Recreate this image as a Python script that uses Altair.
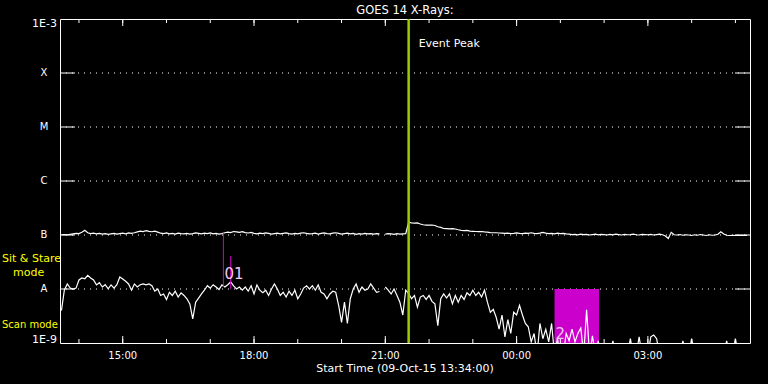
import altair as alt
import pandas as pd

# ---------------- data ----------------
TITLE = "GOES 14 X-Rays:"
X_TITLE = "Start Time (09-Oct-15 13:34:00)"
T_START = (2015, 10, 9, 13, 34)
T_END = (2015, 10, 10, 5, 20)

SAMPLE_START = "2015-10-09 13:36"
SAMPLE_STEP_MIN = 4

# flux in units of 1e-9 W/m^2 (None = data gap)
LONG_CHANNEL = [
    101, 102, 101, 103, 105, 107, 106, 112, 122, 110,
    106, 108, 105, 107, 104, 106, 103, 105, 107, 104,
    106, 108, 105, 109, 107, 110, 114, 118, 116, 120,
    117, 115, 118, 113, 108, 106, 109, 105, 107, 104,
    108, 106, 105, 107, 104, 106, 109, 107, 105, 108,
    106, 109, 105, 107, 104, 106, 110, 113, 111, 116,
    114, 112, 115, 111, 109, 112, 107, 105, 108, 106,
    109, 107, 104, 106, 108, 105, 107, 109, 106, 104,
    107, 105, 108, 110, 107, 105, 106, 108, 104, 107,
    109, 106, 105, 108, 110, 107, 104, 106, 108, 105,
    107, 103, 106, 104, 107, 105, 106, 104, 106, 105,
    None, 104, 106, 105, 103, 106, 104, 105, 106, 172,
    168, 166, 167, 160, 155, 153, 152, 153, 150, 142,
    138, 132, 131, 130, 131, 129, 125, 122, 121, 122,
    118, 117, 116, 115, 116, 114, 113, 111, 110, 110,
    109, 108, 107, 108, 106, 107, 109, 107, 106, 108,
    107, 110, 107, 106, 108, 112, 108, 106, 107, 105,
    108, 106, 107, 105, 104, 102, 103, 101, 104, 102,
    103, 100, 102, 104, 101, 103, 102, 100, 103, 101,
    104, 102, 100, 103, 101, 102, 104, 101, 100, 103,
    102, 101, 103, 100, 102, 104, 101, 96, 86, 112,
    101, 100, 102, 99, 101, 100, 98, 101, 99, 102,
    100, 98, 101, 99, 100, 103, 115, 104, 99, 98,
    99, 98, 98, 99, 98, 98,
]

SHORT_CHANNEL = [
    4.0, 9.6, 12.4, 10.4, 10.0, 10.4, 14.7, 16.0, 15.5, 17.9,
    16.0, 14.7, 11.9, 13.1, 10.9, 12.0, 10.1, 11.9, 10.4, 12.0,
    16.7, 15.3, 13.9, 12.4, 9.5, 12.4, 10.9, 12.0, 12.4, 11.9,
    12.4, 11.5, 9.1, 10.0, 7.6, 8.1, 6.4, 8.7, 7.6, 9.1,
    7.1, 8.5, 7.6, 6.6, 5.3, 2.8, 5.7, 6.8, 8.1, 9.5,
    11.5, 10.4, 12.0, 10.9, 9.8, 11.9, 10.9, 12.0, 13.5, 11.4,
    10.0, 10.9, 9.5, 10.9, 9.1, 11.5, 8.1, 11.9, 9.5, 8.5,
    9.5, 7.6, 10.0, 12.4, 10.0, 7.6, 8.7, 7.1, 9.1, 7.6,
    9.5, 6.6, 8.1, 10.4, 11.5, 10.0, 11.5, 9.5, 11.9, 8.7,
    8.1, 6.6, 8.1, 9.1, 8.7, 5.0, 2.4, 5.7, 2.3, 6.6,
    10.0, 12.4, 8.7, 10.9, 9.5, 10.0, 12.4, 10.4, 8.7, 9.0,
    None, 10.9, 9.5, 8.1, 10.0, 7.6, 5.7, 3.3, 9.5, 8.2,
    6.6, 7.6, 4.6, 7.1, 7.6, 6.4, 7.6, 5.9, 5.3, 2.1,
    6.6, 8.1, 6.8, 8.1, 5.3, 7.6, 5.7, 7.6, 6.4, 8.5,
    7.6, 9.5, 7.6, 8.7, 7.1, 9.5, 5.7, 3.7, 4.2, 3.0,
    1.8, 3.3, 1.3, 2.7, 1.5, 3.7, 3.3, 5.0, 3.3, 2.3,
    2.0, 1.05, 1.5, 0.6, 2.3, 1.2, 1.8, 1.05, 2.3, 0.6,
    1.2, 0.6, 0.6, 1.5, 1.1, 1.8, 1.05, 1.5, 1.9, 0.6,
    4.1, 0.6, 1.35, 0.6, 1.1, 0.6, 0.6, 0.6, 0.6, 1.1,
    0.6, 0.6, 0.6, 0.6, 0.6, 1.2, 0.6, 0.6, 1.3, 0.6,
    0.6, 0.6, 1.3, 1.4, 1.2, 0.6, 0.6, 0.6, 0.6, 0.6,
    0.6, 0.6, 0.6, 1.1, 0.6, 0.6, 1.2, 0.6, 0.6, 0.6,
    0.6, 0.6, 0.6, 0.6, 0.6, 0.6, 0.6, 0.6, 1.1, 0.6,
    0.6, 1.2, 0.6, 0.6, 0.6, 0.6,
]

LEVELS = [10, 100, 1000, 10000, 100000]
LEVEL_LETTERS = ["A", "B", "C", "M", "X"]
EDGE_LEVELS = [1, 1000000]
EDGE_LABELS = ["1E-9", "1E-3"]

HOUR_TICKS = ["2015-10-09 14:00", "2015-10-09 15:00", "2015-10-09 16:00", "2015-10-09 17:00",
              "2015-10-09 18:00", "2015-10-09 19:00", "2015-10-09 20:00", "2015-10-09 21:00",
              "2015-10-09 22:00", "2015-10-09 23:00", "2015-10-10 00:00", "2015-10-10 01:00",
              "2015-10-10 02:00", "2015-10-10 03:00", "2015-10-10 04:00", "2015-10-10 05:00"]
MAJOR_TICKS = ["2015-10-09 15:00", "2015-10-09 18:00", "2015-10-09 21:00",
               "2015-10-10 00:00", "2015-10-10 03:00"]
MAJOR_LABELS = ["15:00", "18:00", "21:00", "00:00", "03:00"]

EVENT_PEAK = "2015-10-09 21:32"
EVENT_LABEL = "Event Peak"

FLARE_BOX_START = "2015-10-10 00:52"
FLARE_BOX_END = "2015-10-10 01:53"
FLARE_BOX_TOP = 10
FLARE_BOX_BOTTOM = 1
FLARE_BOX_LABEL = "2"
FLARE_BOX_LABEL_T = "2015-10-10 00:52"
FLARE_BOX_LABEL_V = 1.2

MARK01_T = ["2015-10-09 17:18", "2015-10-09 17:28"]
MARK01_TOP = [109, 41]
MARK01_BOTTOM = [10.9, 9.9]
MARK01_LABEL = "01"
MARK01_LABEL_T = "2015-10-09 17:18"
MARK01_LABEL_V = 15.3

MODE_TEXTS = ["Sit & Stare", "mode", "Scan mode"]

# ---------------- build tables ----------------
W, H = 690, 324


def iso(s):
    return pd.Timestamp(s).strftime("%Y-%m-%dT%H:%M:%SZ")


def series_frame(values, name):
    rows = []
    seg = 0
    t0 = pd.Timestamp(SAMPLE_START)
    for i, v in enumerate(values):
        if v is None:
            seg += 1
            continue
        t = t0 + pd.Timedelta(minutes=SAMPLE_STEP_MIN * i)
        rows.append({"t": t.strftime("%Y-%m-%dT%H:%M:%SZ"), "v": v, "seg": f"{name}{seg}"})
    return pd.DataFrame(rows)


lines_df = pd.concat([series_frame(LONG_CHANNEL, "long"), series_frame(SHORT_CHANNEL, "short")])

xdom = [alt.DateTime(year=T_START[0], month=T_START[1], date=T_START[2], hours=T_START[3], minutes=T_START[4], utc=True),
        alt.DateTime(year=T_END[0], month=T_END[1], date=T_END[2], hours=T_END[3], minutes=T_END[4], utc=True)]
xscale = alt.Scale(type="utc", domain=xdom)
yscale = alt.Scale(type="log", domain=[1, 1000000])

X = lambda f: alt.X(f, type="temporal", scale=xscale, axis=None)
Y = lambda f: alt.Y(f, type="quantitative", scale=yscale, axis=None)

FONT = "DejaVu Sans"

levels_df = pd.DataFrame({"v": LEVELS, "lab": LEVEL_LETTERS})
edge_df = pd.DataFrame({"v": EDGE_LEVELS, "lab": EDGE_LABELS})
hours_df = pd.DataFrame({"t": [iso(s) for s in HOUR_TICKS]})
major_df = pd.DataFrame({"t": [iso(s) for s in MAJOR_TICKS], "lab": MAJOR_LABELS})

# grid lines (dotted)
grid = alt.Chart(levels_df).mark_rule(color="white", strokeWidth=1, strokeDash=[1, 5]).encode(
    y=Y("v"), x=alt.value(0), x2=alt.value(W))
ytick_l = alt.Chart(levels_df).mark_rule(color="white", strokeWidth=1).encode(
    y=Y("v"), x=alt.value(0), x2=alt.value(15))
ytick_r = alt.Chart(levels_df).mark_rule(color="white", strokeWidth=1).encode(
    y=Y("v"), x=alt.value(W - 15), x2=alt.value(W))
letters = alt.Chart(levels_df).mark_text(color="white", font=FONT, fontSize=10, align="center",
                                         baseline="middle").encode(
    y=Y("v"), x=alt.value(-16), text="lab:N")
edge_top = alt.Chart(edge_df[edge_df.lab == "1E-3"]).mark_text(
    color="white", font=FONT, fontSize=11, align="right", baseline="alphabetic", dy=8).encode(
    y=Y("v"), x=alt.value(-3), text="lab:N")
edge_bot = alt.Chart(edge_df[edge_df.lab == "1E-9"]).mark_text(
    color="white", font=FONT, fontSize=11, align="right", baseline="alphabetic").encode(
    y=Y("v"), x=alt.value(-3), text="lab:N")

# x ticks
minor_b = alt.Chart(hours_df).mark_rule(color="white").encode(x=X("t"), y=alt.value(H), y2=alt.value(H - 4))
minor_t = alt.Chart(hours_df).mark_rule(color="white").encode(x=X("t"), y=alt.value(0), y2=alt.value(4))
major_b = alt.Chart(major_df).mark_rule(color="white").encode(x=X("t"), y=alt.value(H), y2=alt.value(H - 7))
major_t = alt.Chart(major_df).mark_rule(color="white").encode(x=X("t"), y=alt.value(0), y2=alt.value(7))
xlabels = alt.Chart(major_df).mark_text(color="white", font=FONT, fontSize=10, align="center",
                                        baseline="alphabetic").encode(
    x=X("t"), y=alt.value(H + 16), text="lab:N")

# flare box
box_df = pd.DataFrame({"t": [iso(FLARE_BOX_START)], "t2": [iso(FLARE_BOX_END)],
                       "v": [FLARE_BOX_TOP], "v2": [FLARE_BOX_BOTTOM]})
box = alt.Chart(box_df).mark_rect(color="#cc00cc").encode(
    x=X("t"), x2="t2:T", y=Y("v"), y2="v2:Q")

# data lines
lines = alt.Chart(lines_df).mark_line(color="white", strokeWidth=1.2, clip=True).encode(
    x=X("t"), y=Y("v"), detail="seg:N")

# 01 markers
m01_df = pd.DataFrame({"t": [iso(s) for s in MARK01_T], "v": MARK01_TOP, "v2": MARK01_BOTTOM})
m01 = alt.Chart(m01_df).mark_rule(color="#cc00cc", strokeWidth=1).encode(
    x=X("t"), y=Y("v"), y2="v2:Q")

anno_df = pd.DataFrame({"t": [iso(MARK01_LABEL_T), iso(FLARE_BOX_LABEL_T)],
                        "v": [MARK01_LABEL_V, FLARE_BOX_LABEL_V],
                        "lab": [MARK01_LABEL, FLARE_BOX_LABEL]})
anno = alt.Chart(anno_df).mark_text(color="#f0c8f0", font=FONT, fontSize=15, align="left",
                                    baseline="alphabetic", dx=1).encode(
    x=X("t"), y=Y("v"), text="lab:N")

# event peak
ev_df = pd.DataFrame({"t": [iso(EVENT_PEAK)], "lab": [EVENT_LABEL]})
ev = alt.Chart(ev_df).mark_rule(color="#9acd00", strokeWidth=2.5).encode(
    x=X("t"), y=alt.value(0), y2=alt.value(H))
ev_text = alt.Chart(ev_df).mark_text(color="white", font=FONT, fontSize=11, align="left",
                                     baseline="alphabetic", dx=10).encode(
    x=X("t"), y=alt.value(28), text="lab:N")

# titles & mode texts
txt_df = pd.DataFrame({"lab": [TITLE]})
title = alt.Chart(txt_df).mark_text(color="white", font=FONT, fontSize=11.5, align="center",
                                    baseline="alphabetic").encode(
    x=alt.value(W / 2), y=alt.value(-5), text="lab:N")
xt_df = pd.DataFrame({"lab": [X_TITLE]})
xtitle = alt.Chart(xt_df).mark_text(color="white", font=FONT, fontSize=11, align="center",
                                    baseline="alphabetic").encode(
    x=alt.value(W / 2), y=alt.value(H + 29), text="lab:N")

mode1 = alt.Chart(pd.DataFrame({"lab": [MODE_TEXTS[0]]})).mark_text(
    color="#ffff00", font=FONT, fontSize=11, align="left", baseline="alphabetic").encode(
    x=alt.value(-58), y=alt.value(243), text="lab:N")
mode2 = alt.Chart(pd.DataFrame({"lab": [MODE_TEXTS[1]]})).mark_text(
    color="#ffff00", font=FONT, fontSize=11, align="left", baseline="alphabetic").encode(
    x=alt.value(-47), y=alt.value(257), text="lab:N")
mode3 = alt.Chart(pd.DataFrame({"lab": [MODE_TEXTS[2]]})).mark_text(
    color="#ffff00", font=FONT, fontSize=10, align="left", baseline="alphabetic").encode(
    x=alt.value(-58), y=alt.value(309), text="lab:N")

chart = alt.layer(
    grid, box, lines, m01, ev, anno, ev_text,
    ytick_l, ytick_r, minor_b, minor_t, major_b, major_t,
    letters, edge_top, edge_bot, xlabels, title, xtitle, mode1, mode2, mode3,
).properties(
    width=W, height=H,
    background="black",
    padding={"left": 60, "top": 19, "right": 18, "bottom": 41},
    autosize=alt.AutoSizeParams(type="none"),
).configure_view(stroke="white", strokeWidth=1)

chart.save("out.html", embed_options={"renderer": "svg", "actions": False})
